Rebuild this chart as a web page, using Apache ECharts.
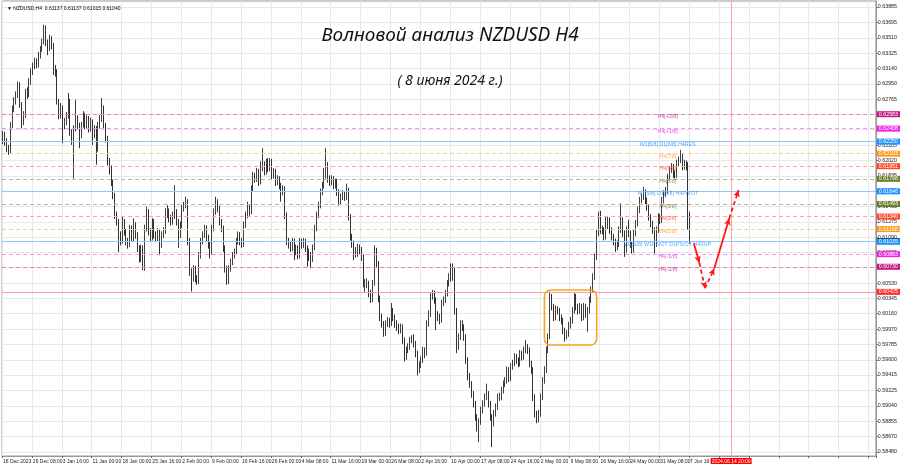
<!DOCTYPE html>
<html><head><meta charset="utf-8">
<script src="https://cdn.jsdelivr.net/npm/echarts@6/dist/echarts.min.js"></script>
<style>html,body{margin:0;padding:0;background:#fff}#c{width:900px;height:468px}</style>
</head><body><div id="c"></div>
<script>
// 8-hour candles [open, close, low, high] in units of 0.0001 (NZDUSD)
const candles = [
[6228,6233,6222,6238],[6233,6225,6220,6237],[6225,6217,6212,6229],[6217,6213,6209,6221],[6213,6245,6210,6249],[6245,6266,6241,6269],[6266,6274,6261,6279],[6274,6282,6270,6286],
[6282,6294,6278,6298],[6294,6270,6266,6297],[6270,6249,6241,6273],[6249,6257,6245,6262],[6257,6286,6254,6289],[6286,6282,6277,6291],[6282,6298,6279,6302],[6298,6310,6294,6314],
[6310,6318,6306,6321],[6318,6322,6313,6327],[6322,6318,6314,6326],[6318,6330,6315,6334],[6330,6338,6326,6341],[6338,6346,6334,6350],[6346,6363,6343,6367],[6363,6346,6341,6366],
[6346,6338,6330,6349],[6338,6350,6335,6355],[6350,6342,6337,6353],[6342,6314,6306,6345],[6314,6310,6304,6318],[6310,6274,6270,6313],[6274,6257,6252,6277],[6257,6266,6253,6272],
[6266,6245,6223,6269],[6245,6249,6240,6254],[6249,6257,6245,6261],[6257,6274,6253,6284],[6274,6237,6232,6277],[6237,6225,6221,6240],[6225,6241,6180,6245],[6241,6253,6237,6276],
[6253,6245,6240,6257],[6245,6233,6217,6248],[6233,6245,6229,6249],[6245,6257,6242,6262],[6257,6245,6240,6260],[6245,6253,6241,6257],[6253,6241,6236,6256],[6241,6249,6237,6254],
[6249,6233,6221,6252],[6233,6241,6229,6245],[6241,6217,6197,6244],[6217,6245,6213,6249],[6245,6253,6241,6257],[6253,6266,6249,6278],[6266,6245,6240,6269],[6245,6229,6224,6248],
[6229,6201,6196,6232],[6201,6193,6185,6205],[6193,6176,6171,6196],[6176,6160,6155,6179],[6160,6136,6131,6163],[6136,6128,6123,6140],[6128,6112,6091,6131],[6112,6104,6099,6116],
[6104,6128,6101,6134],[6128,6116,6111,6131],[6116,6104,6099,6119],[6104,6100,6095,6108],[6100,6120,6097,6124],[6120,6108,6103,6123],[6108,6124,6104,6132],[6124,6112,6107,6127],
[6112,6096,6091,6115],[6096,6083,6078,6099],[6083,6096,6079,6100],[6096,6071,6069,6099],[6071,6120,6068,6124],[6120,6140,6116,6146],[6140,6116,6111,6143],[6116,6108,6103,6120],
[6108,6128,6105,6132],[6128,6112,6107,6131],[6112,6108,6103,6116],[6108,6116,6104,6120],[6116,6100,6087,6119],[6100,6112,6096,6116],[6112,6116,6108,6121],[6116,6136,6113,6144],
[6136,6140,6132,6148],[6140,6132,6127,6144],[6132,6128,6123,6136],[6128,6136,6124,6140],[6136,6140,6131,6172],[6140,6128,6123,6143],[6128,6112,6096,6131],[6112,6124,6108,6128],
[6124,6144,6120,6148],[6144,6148,6140,6152],[6148,6152,6144,6158],[6152,6104,6099,6155],[6104,6067,6062,6108],[6067,6059,6043,6071],[6059,6071,6055,6075],[6071,6059,6054,6074],
[6059,6055,6051,6063],[6055,6087,6052,6091],[6087,6104,6083,6108],[6104,6112,6100,6116],[6112,6120,6108,6124],[6120,6108,6103,6123],[6108,6100,6095,6112],[6100,6091,6083,6104],
[6091,6120,6088,6124],[6120,6140,6116,6144],[6140,6152,6136,6158],[6152,6144,6139,6155],[6144,6128,6123,6147],[6128,6120,6115,6131],[6120,6096,6091,6123],[6096,6071,6066,6099],
[6071,6055,6051,6074],[6055,6071,6052,6075],[6071,6079,6067,6083],[6079,6087,6075,6091],[6087,6091,6083,6095],[6091,6104,6088,6108],[6104,6112,6100,6116],[6112,6104,6099,6115],
[6104,6100,6096,6108],[6100,6124,6097,6128],[6124,6136,6120,6140],[6136,6144,6132,6152],[6144,6140,6135,6148],[6140,6168,6137,6172],[6168,6184,6164,6188],[6184,6180,6175,6187],
[6180,6189,6176,6193],[6189,6176,6171,6192],[6176,6193,6173,6201],[6193,6197,6189,6217],[6197,6189,6184,6201],[6189,6201,6185,6204],[6201,6193,6188,6205],[6193,6201,6189,6205],
[6201,6184,6179,6204],[6184,6189,6180,6193],[6189,6176,6171,6192],[6176,6180,6172,6184],[6180,6172,6167,6183],[6172,6164,6152,6175],[6164,6168,6160,6172],[6168,6136,6131,6171],
[6136,6104,6099,6139],[6104,6100,6095,6108],[6100,6096,6091,6104],[6096,6104,6092,6108],[6104,6091,6081,6107],[6091,6096,6087,6100],[6096,6087,6082,6099],[6087,6104,6083,6108],
[6104,6100,6095,6107],[6100,6104,6096,6108],[6104,6096,6091,6107],[6096,6091,6073,6099],[6091,6087,6080,6095],[6087,6083,6071,6091],[6083,6096,6079,6100],[6096,6120,6093,6124],
[6120,6136,6116,6140],[6136,6148,6132,6152],[6148,6164,6144,6168],[6164,6172,6160,6176],[6172,6184,6168,6193],[6184,6197,6180,6217],[6197,6180,6175,6200],[6180,6176,6171,6184],
[6176,6180,6172,6184],[6180,6172,6167,6183],[6172,6176,6168,6180],[6176,6164,6159,6180],[6164,6152,6147,6167],[6152,6158,6148,6162],[6158,6162,6154,6166],[6162,6158,6153,6165],
[6158,6166,6154,6174],[6166,6134,6129,6169],[6134,6110,6105,6137],[6110,6101,6096,6113],[6101,6093,6081,6105],[6093,6089,6084,6097],[6089,6097,6085,6101],[6097,6093,6088,6100],
[6093,6085,6080,6097],[6085,6053,6048,6088],[6053,6053,6041,6058],[6053,6053,6047,6059],[6053,6041,6036,6056],[6041,6033,6029,6045],[6033,6053,6030,6057],[6053,6093,6050,6099],
[6093,6077,6072,6096],[6077,6035,6030,6080],[6035,6012,6007,6038],[6012,6004,5999,6016],[6004,5992,5988,6007],[5992,6004,5989,6008],[6004,6008,6000,6012],[6008,6004,5999,6011],
[6004,6020,6001,6029],[6020,6012,6007,6023],[6012,6004,5999,6015],[6004,6000,5995,6008],[6000,5996,5991,6004],[5996,6000,5992,6004],[6000,5984,5979,6003],[5984,5964,5958,5987],
[5964,5972,5960,5976],[5972,5976,5968,5980],[5976,5984,5972,5988],[5984,5988,5980,5990],[5988,5980,5975,5991],[5980,5968,5963,5983],[5968,5948,5941,5971],[5948,5954,5944,5958],
[5954,5960,5950,5964],[5960,5972,5956,5976],[5972,5968,5962,5975],[5968,6004,5965,6008],[6004,6016,6000,6020],[6016,6037,6012,6041],[6037,6041,6033,6045],[6041,6033,6028,6044],
[6033,6015,5996,6036],[6015,6012,6007,6019],[6012,6008,6003,6016],[6008,6029,6005,6033],[6029,6033,6025,6037],[6033,6041,6029,6045],[6041,6053,6037,6057],[6053,6061,6049,6065],
[6061,6060,6055,6077],[6060,6069,6056,6077],[6069,6020,6015,6072],[6020,5976,5968,6023],[5976,5988,5972,5992],[5988,6004,5984,6008],[6004,6000,5995,6008],[6000,5988,5983,6003],
[5988,5960,5955,5991],[5960,5940,5935,5963],[5940,5931,5926,5944],[5931,5919,5914,5934],[5919,5907,5902,5922],[5907,5891,5886,5910],[5891,5879,5873,5894],[5879,5885,5860,5889],
[5885,5899,5881,5903],[5899,5907,5895,5911],[5907,5915,5903,5919],[5915,5919,5911,5931],[5919,5907,5902,5922],[5907,5891,5886,5910],[5891,5883,5854,5894],[5883,5895,5879,5899],
[5895,5903,5891,5907],[5903,5915,5899,5919],[5915,5915,5910,5920],[5915,5923,5911,5927],[5923,5931,5919,5935],[5931,5935,5927,5939],[5935,5948,5931,5952],[5948,5938,5933,5951],
[5938,5952,5934,5956],[5952,5956,5948,5960],[5956,5964,5952,5968],[5964,5960,5955,5967],[5960,5956,5951,5963],[5956,5968,5952,5972],[5968,5964,5959,5971],[5964,5972,5960,5976],
[5972,5976,5968,5984],[5976,5972,5967,5979],[5972,5956,5951,5975],[5956,5948,5943,5959],[5948,5915,5910,5951],[5915,5895,5890,5918],[5895,5887,5883,5898],[5887,5895,5884,5899],
[5895,5915,5891,5919],[5915,5935,5911,5939],[5935,5948,5931,5952],[5948,5972,5944,5976],[5972,5988,5968,5992],[5988,6037,5985,6043],[6037,6025,6020,6040],[6025,6012,6007,6028],
[6012,6022,6008,6026],[6022,6020,6015,6025],[6020,6012,6007,6023],[6012,6008,6003,6015],[6008,5996,5991,6011],[5996,5988,5982,5999],[5988,5992,5985,5996],[5992,6002,5988,6006],
[6002,6008,5998,6012],[6008,6020,6004,6024],[6020,6037,6016,6041],[6037,6025,6020,6040],[6025,6020,6015,6028],[6020,6025,6016,6029],[6025,6012,6007,6028],[6012,6025,6008,6029],
[6025,6016,6011,6028],[6016,6020,5994,6024],[6020,6033,6016,6037],[6033,6045,6029,6049],[6045,6061,6041,6065],[6061,6085,6057,6089],[6085,6114,6081,6118],[6114,6138,6110,6140],
[6138,6118,6113,6141],[6118,6118,6112,6123],[6118,6110,6105,6121],[6110,6122,6106,6134],[6122,6130,6118,6134],[6130,6118,6113,6133],[6118,6110,6105,6121],[6110,6104,6099,6113],
[6104,6097,6091,6107],[6097,6101,6093,6105],[6101,6118,6097,6122],[6118,6130,6114,6150],[6130,6114,6109,6133],[6114,6093,6085,6117],[6093,6118,6090,6122],[6118,6114,6109,6130],
[6114,6101,6096,6117],[6101,6093,6089,6104],[6093,6114,6090,6118],[6114,6126,6110,6130],[6126,6142,6122,6146],[6142,6154,6138,6158],[6154,6158,6150,6162],[6158,6164,6154,6170],
[6164,6154,6149,6167],[6154,6146,6141,6157],[6146,6134,6129,6149],[6134,6126,6121,6137],[6126,6118,6113,6129],[6118,6101,6089,6121],[6101,6118,6097,6122],[6118,6134,6114,6138],
[6134,6130,6125,6137],[6130,6154,6126,6158],[6154,6162,6150,6166],[6162,6166,6158,6170],[6166,6182,6162,6186],[6182,6191,6178,6195],[6191,6195,6187,6199],[6195,6186,6181,6198],
[6186,6185,6180,6190],[6185,6199,6181,6203],[6199,6203,6195,6207],[6203,6207,6199,6215],[6207,6195,6190,6210],[6195,6199,6191,6203],[6199,6195,6190,6202],[6195,6125,6118,6200],
[6125,6104,6101,6140]
];

const priceTicks = [0.63885,0.63695,0.63510,0.63325,0.63140,0.62950,0.62765,0.62580,0.62395,0.62205,0.62020,0.61835,0.61650,0.61465,0.61275,0.61090,0.60905,0.60720,0.60530,0.60345,0.60160,0.59970,0.59785,0.59600,0.59415,0.59225,0.59040,0.58855,0.58670,0.58480];

const xTickLabels = ['18 Dec 2023','26 Dec 08:00','3 Jan 16:00','11 Jan 00:00','18 Jan 00:00','25 Jan 16:00','2 Feb 00:00','9 Feb 00:00','16 Feb 16:00','26 Feb 00:00','4 Mar 08:00','11 Mar 16:00','19 Mar 00:00','26 Mar 08:00','2 Apr 16:00','10 Apr 00:00','17 Apr 08:00','24 Apr 16:00','2 May 00:00','9 May 08:00','16 May 16:00','24 May 00:00','31 May 08:00','7 Jun 16:00'];

const levelPrices = [0.62583,0.62408,0.62250,0.62103,0.61951,0.61798,0.61646,0.61493,0.61340,0.61188,0.61035,0.60883,0.60730];
const levelNames = ['H4[+2/8]','H4[+1/8]','W1[6/8] D1[6/8] H4RES','H4[7/8]','H4[6/8]','H4[5/8]','W1[5/8] D1[5/8] H4PIVOT','H4[3/8]','H4[2/8]','H4[1/8]','W1[1/8] W1PIVOT D1PIVOT H4SUP','H4[-1/8]','H4[-2/8]'];
const levelColors = ['#c8157f','#ee22ee','#1e90ff','#ff9a1a','#ff4a2a','#6b7f2a','#1e90ff','#6b7f2a','#ff4a2a','#ff9a1a','#1e90ff','#ee22ee','#c8157f'];
const levelLineColors = ['#e882bd','#f596f5','#90c6ff','#ffcb8a','#ffa596','#b4bc98','#90c6ff','#b4bc98','#ffa596','#ffcb8a','#90c6ff','#f596f5','#e882bd'];
const levelSolid = [false,false,true,false,false,false,true,false,false,false,true,false,false];
const levelLabelSlot = 356;

const bidPrice = 0.61040;
const redLevel = 0.60425;
const timeMarkerSlot = 390;
const timeMarkerLabel = '2024.06.14 20:00';

const forecastPath = [[370,0.61015],[373,0.60776],[376,0.60468],[381,0.60711],[389,0.61319],[394,0.61662]];
const forecastDashed = [false,true,true,false,true];

const boxArea = [290,0.60448,318,0.59780];

const headerText = 'NZDUSD,H4  0.61137 0.61137 0.61015 0.61040';
const titleText = 'Волновой анализ NZDUSD H4';
const subTitleText = '( 8 июня 2024 г.)';

// category axis (8-hour slots, trading days only) incl. empty future slots
const totalSlots = 468;
const monthNames = ['Jan','Feb','Mar','Apr','May','Jun','Jul','Aug','Sep','Oct','Nov','Dec'];
const holidays = ['2023-12-25','2024-01-01'];
const categories = [];
let day = new Date(Date.UTC(2023,11,18));
while (categories.length < totalSlots) {
  const wd = day.getUTCDay(), key = day.toISOString().slice(0,10);
  if (wd !== 0 && wd !== 6 && holidays.indexOf(key) < 0) {
    [0,8,16].forEach(h => categories.push(day.getUTCDate()+' '+monthNames[day.getUTCMonth()]+' '+String(h).padStart(2,'0')+':00'));
  }
  day = new Date(day.getTime()+86400000);
}
categories.length = totalSlots;

const ohlc = candles.map(r => r.map(v => v/10000));

const FONT = 'Liberation Sans';
const chart = echarts.init(document.getElementById('c'), null, {renderer:'canvas'});

function boxLabel(text, bg) {
  return {show:true, position:'end', distance:1, formatter:text, color:'#fff', backgroundColor:bg,
          padding:[1,2,0,2], fontSize:5.3, fontFamily:FONT};
}
const levelLines = [];
levelLines.push({yAxis: bidPrice, lineStyle:{color:'#666', type:'solid', width:1}, label: boxLabel(bidPrice.toFixed(5), '#000')});
levelPrices.forEach((p,i) => levelLines.push({yAxis:p,
  lineStyle:{color:levelLineColors[i], type: levelSolid[i] ? 'solid' : [4,3], width:1},
  label: boxLabel(p.toFixed(5), levelColors[i])}));
levelLines.push({yAxis: redLevel, lineStyle:{color:'#ff9a9a', type:'solid', width:1}, label: boxLabel(redLevel.toFixed(5), '#ff2a2a')});
levelLines.push({xAxis: timeMarkerSlot, lineStyle:{color:'#ffa0a0', type:'solid', width:1},
  label:{show:true, position:'start', distance:2, formatter: timeMarkerLabel, color:'#fff', backgroundColor:'#ff0000', padding:[1,1,0,1], fontSize:5, fontFamily:FONT}});

const arrowLines = [];
for (let i = 0; i < forecastPath.length-1; i++) {
  arrowLines.push([{coord: forecastPath[i], lineStyle:{color:'#ff1a1a', width:1.8, type: forecastDashed[i] ? [4,3] : 'solid'}},
                   {coord: forecastPath[i+1]}]);
}

const option = {
  animation: false,
  backgroundColor: '#ffffff',
  title: [
    {text: titleText, left:'center', top: 21, textStyle:{fontFamily:'Noto Sans', fontStyle:'italic', fontWeight:'normal', fontSize:19, color:'#111'}},
    {text: subTitleText, left:'center', top: 69, textStyle:{fontFamily:'Noto Sans', fontStyle:'italic', fontWeight:'normal', fontSize:14, color:'#111'}},
    {text: '▼ ' + headerText, left: 2, top: 1, textStyle:{fontFamily:FONT, fontWeight:'normal', fontSize:5, color:'#000'}}
  ],
  grid: {left:0, right:22, top:1, bottom:12, show:true, borderColor:'#999', borderWidth:1},
  xAxis: {
    type:'category', data: categories, boundaryGap: true,
    axisLine:{show:true, lineStyle:{color:'#999'}},
    axisTick:{show:true, interval:15, length:2, lineStyle:{color:'#666'}},
    axisLabel:{interval:15, align:'left', margin:3, fontSize:5, fontFamily:FONT, color:'#222', showMinLabel:true, hideOverlap:false,
      formatter:(v, idx) => (idx % 16 === 0 && xTickLabels[idx/16]) ? xTickLabels[idx/16] : ''},
    splitLine:{show:true, interval:15, lineStyle:{color:'#e8e8e8', width:1}}
  },
  yAxis: {
    type:'value', position:'right', min:0.584314, max:0.639579, scale:true,
    axisLine:{show:true, lineStyle:{color:'#999'}},
    axisTick:{show:true, length:2, customValues: priceTicks, lineStyle:{color:'#666'}},
    axisLabel:{customValues: priceTicks, formatter: v => v.toFixed(5), fontSize:5.3, fontFamily:FONT, color:'#222', margin:2},
    splitLine:{show:false}
  },
  series: [
    {type:'scatter', name:'grid', data: priceTicks.map(p => [0,p]), symbolSize:0, silent:true, z:1,
     markLine:{silent:true, precision:6, symbol:['none','none'], z:1, animation:false, label:{show:false},
       lineStyle:{color:'#e8e8e8', type:'solid', width:1}, data: priceTicks.map(p => ({yAxis:p}))}},
    {type:'candlestick', name:'NZDUSD', data: ohlc, barWidth: 1, z:3,
     itemStyle:{color:'#ffffff', color0:'#1a1a1a', borderColor:'#2a2a2a', borderColor0:'#1a1a1a', borderWidth:0.9},
     markLine:{silent:true, precision:6, symbol:['none','none'], z:4, animation:false, data: levelLines}},
    {type:'scatter', name:'levelNames', symbolSize:0, silent:true, z:5,
     data: levelPrices.map((p,i) => ({value:[levelLabelSlot,p], name: levelNames[i],
       label:{show:true, position:'bottom', distance:0, formatter: levelNames[i], color: levelColors[i], fontSize:5.3, fontFamily:FONT}}))},
    {type:'scatter', name:'forecast', symbolSize:0, silent:true, z:6, data:[forecastPath[0]],
     markLine:{silent:true, precision:6, symbol:['none','arrow'], symbolSize:[5,7], z:6, animation:false, label:{show:false}, data: arrowLines}},
    {type:'custom', name:'box', silent:true, z:6, data:[boxArea], encode:{x:[0,2], y:[1,3]},
     renderItem:(params, api) => {
       const a = api.coord([api.value(0), api.value(1)]);
       const b = api.coord([api.value(2), api.value(3)]);
       return {type:'rect', shape:{x:a[0], y:a[1], width:b[0]-a[0], height:b[1]-a[1], r:6},
               style:{fill:'none', stroke:'#f5a623', lineWidth:1.6}};
     }}
  ]
};
chart.setOption(option);
</script></body></html>
